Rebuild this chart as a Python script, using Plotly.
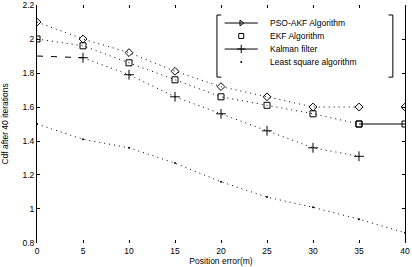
import plotly.graph_objects as go

x = [0, 5, 10, 15, 20, 25, 30, 35, 40]
pso_akf = [2.1, 2.0, 1.92, 1.81, 1.72, 1.66, 1.6, 1.6, 1.6]
ekf = [2.0, 1.96, 1.86, 1.76, 1.66, 1.61, 1.56, 1.5, 1.5]
kalman_x = [0, 5, 10, 15, 20, 25, 30, 35]
kalman = [1.9, 1.89, 1.79, 1.66, 1.56, 1.46, 1.36, 1.31]
least_sq = [1.5, 1.41, 1.36, 1.27, 1.16, 1.07, 1.01, 0.94, 0.86]
names = ["PSO-AKF Algorithm", "EKF Algorithm", "Kalman filter", "Least square algorithm"]
x_ticks = [0, 5, 10, 15, 20, 25, 30, 35, 40]
y_ticks = [0.8, 1, 1.2, 1.4, 1.6, 1.8, 2, 2.2]

# hand-built legend layout, in axis units
leg_rows = [2.094, 2.018, 1.941, 1.865]
leg_line = [20.4, 24.0]
leg_mark = 22.2
leg_text = 25.2

fig = go.Figure()
dot = dict(color="black", width=1, dash="1px,4px")
mk = dict(color="black", line=dict(width=1, color="black"))

# data traces
fig.add_trace(go.Scatter(x=x[:-1], y=pso_akf[:-1], mode="lines+markers", line=dot,
                         marker=dict(symbol="diamond-open", size=6, **mk)))
fig.add_trace(go.Scatter(x=x[-1:], y=pso_akf[-1:], mode="markers",
                         marker=dict(symbol="diamond-open", size=6, **mk)))
fig.add_trace(go.Scatter(x=x[:-1], y=ekf[:-1], mode="lines+markers", line=dot,
                         marker=dict(symbol="square-open", size=6, **mk)))
fig.add_trace(go.Scatter(x=x[-2:], y=ekf[-2:], mode="lines+markers", line=dict(color="black", width=1.2),
                         marker=dict(symbol="square-open", size=6, **mk)))
fig.add_trace(go.Scatter(x=kalman_x[:2], y=kalman[:2], mode="lines",
                         line=dict(color="black", width=1, dash="6px,8px")))
fig.add_trace(go.Scatter(x=kalman_x[1:], y=kalman[1:], mode="lines+markers", line=dot,
                         marker=dict(symbol="cross-thin-open", size=7, **mk)))
fig.add_trace(go.Scatter(x=x, y=least_sq, mode="lines+markers", line=dot,
                         marker=dict(symbol="circle", size=2, color="black")))

# legend glyphs
fig.add_trace(go.Scatter(x=leg_line, y=[leg_rows[0]] * 2, mode="lines", line=dict(color="black", width=1)))
fig.add_trace(go.Scatter(x=[leg_mark], y=[leg_rows[0]], mode="markers",
                         marker=dict(symbol="triangle-right-open", size=5, **mk)))
fig.add_trace(go.Scatter(x=[leg_mark], y=[leg_rows[1]], mode="markers",
                         marker=dict(symbol="square-open", size=5, **mk)))
fig.add_trace(go.Scatter(x=leg_line, y=[leg_rows[2]] * 2, mode="lines", line=dict(color="black", width=1)))
fig.add_trace(go.Scatter(x=[leg_mark], y=[leg_rows[2]], mode="markers",
                         marker=dict(symbol="cross-thin-open", size=6, **mk)))
fig.add_trace(go.Scatter(x=[leg_mark], y=[leg_rows[3]], mode="markers",
                         marker=dict(symbol="circle", size=2, color="black")))

font = dict(family="Liberation Sans, Arial, sans-serif", size=8.5, color="black")

for name, row in zip(names, leg_rows):
    fig.add_annotation(x=leg_text, y=row, xref="x", yref="y", text=name, showarrow=False,
                       xanchor="left", yanchor="middle", font=font, borderpad=0)

fig.update_layout(
    width=412, height=267,
    margin=dict(l=37, r=7, t=5, b=24, autoexpand=False),
    paper_bgcolor="white", plot_bgcolor="white",
    font=font,
    showlegend=False,
    xaxis=dict(range=[0, 40], tickvals=x_ticks, ticks="inside", ticklen=3, tickcolor="black",
               showline=True, linecolor="rgba(0,0,0,0)", mirror="ticks", showgrid=False, zeroline=False,
               automargin=False, ticklabeloverflow="allow",
               title=dict(text="Position error(m)", font=font, standoff=0)),
    yaxis=dict(range=[0.7999, 2.2001], tickvals=y_ticks, ticks="inside", ticklen=3, tickcolor="black",
               showline=True, linecolor="black", linewidth=1, mirror="ticks", showgrid=False, zeroline=False,
               automargin=False, ticklabeloverflow="allow",
               title=dict(text="Cdf after 40 iterations", font=font, standoff=12)),
)

# legend bracket shapes
for xb, d in [(0.489, 0.012), (0.967, -0.012)]:
    fig.add_shape(type="line", xref="paper", yref="paper", x0=xb, x1=xb, y0=0.697, y1=0.958,
                  line=dict(color="black", width=1))
    fig.add_shape(type="line", xref="paper", yref="paper", x0=xb, x1=xb + d, y0=0.958, y1=0.958,
                  line=dict(color="black", width=1))
    fig.add_shape(type="line", xref="paper", yref="paper", x0=xb, x1=xb + d, y0=0.697, y1=0.697,
                  line=dict(color="black", width=1))

fig.write_html("out.html", config={"displayModeBar": False},
               post_script="document.body.style.margin='0';document.body.style.overflow='hidden';")
